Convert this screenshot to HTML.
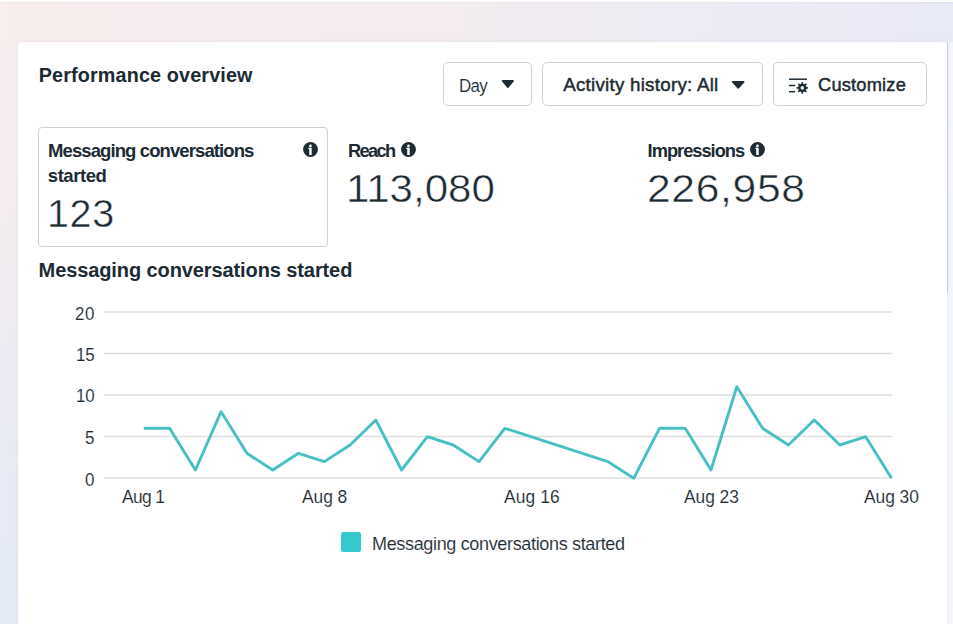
<!DOCTYPE html>
<html><head><meta charset="utf-8">
<style>
html,body{margin:0;padding:0;width:953px;height:624px;overflow:hidden;}
body{position:relative;font-family:"Liberation Sans",sans-serif;color:#1c2b33;
background:linear-gradient(to bottom,#f7eeef 0px,#f5edef 200px,#ebebf4 400px,#e3ebf6 624px);}
#bgtop{position:absolute;left:0;top:0;width:953px;height:42px;
background:linear-gradient(to right,#f8eeee 0%,#f4ecf0 45%,#edecf5 75%,#e9eaf7 100%);}
#toprow{position:absolute;left:0;top:0;width:953px;height:2px;background:#fdfdfd;}
#toprow2{position:absolute;left:0;top:2px;width:953px;height:1px;background:rgba(0,0,0,0.03);}
#rstrip{position:absolute;left:947px;top:42px;width:6px;height:582px;background:linear-gradient(to bottom,#f3f4fc,#f5f7fd);}
#card{position:absolute;left:18px;top:42px;width:929px;height:600px;background:#fff;border-radius:3px;box-shadow:0 0 2px rgba(0,0,0,0.05),0 0 10px rgba(0,0,0,0.03);}
#sb{position:absolute;left:947px;top:42px;width:1px;height:251px;background:#c9ccd4;}
.t{position:absolute;white-space:nowrap;line-height:normal;}
#n1,#n2,#n3{-webkit-text-stroke:0.5px #fff;}
#leg,#x1,#x8,#x16,#x23,#x30,#y20,#y15,#y10,#y5,#y0,#bday{-webkit-text-stroke:0.12px #fff;}
.btn{position:absolute;top:62px;height:44px;box-sizing:border-box;border:1px solid #cdd0d5;border-radius:5px;background:#fff;}



</style></head><body>
<div id="bgtop"></div>
<div id="toprow"></div>
<div id="toprow2"></div>
<div id="rstrip"></div>
<div id="card"></div>
<div id="sb"></div>
<div class="btn" style="left:443px;width:89px;"></div>
<div class="btn" style="left:542px;width:221px;"></div>
<div class="btn" style="left:773px;width:154px;"></div>
<svg style="position:absolute;left:0;top:0;" width="953" height="624">
<path d="M502.8 80.9 L512.9 80.9 L507.85 86.9 Z" fill="#1c2b33" stroke="#1c2b33" stroke-width="2" stroke-linejoin="round"/>
<path d="M732.9 81.9 L743.5 81.9 L738.2 87.7 Z" fill="#1c2b33" stroke="#1c2b33" stroke-width="2" stroke-linejoin="round"/>
<g stroke="#1c2b33" stroke-width="1.5">
<line x1="789" y1="79.2" x2="807" y2="79.2"/>
<line x1="789" y1="85.5" x2="795.2" y2="85.5"/>
<line x1="789" y1="91.7" x2="795.2" y2="91.7"/>
</g>
<g transform="translate(802.3 87.9)" fill="#1c2b33">
<circle r="4.1"/>
<rect x="-0.8" y="-5.8" width="1.6" height="11.6"/>
<rect x="-0.8" y="-5.8" width="1.6" height="11.6" transform="rotate(45)"/>
<rect x="-0.8" y="-5.8" width="1.6" height="11.6" transform="rotate(90)"/>
<rect x="-0.8" y="-5.8" width="1.6" height="11.6" transform="rotate(135)"/>
<circle r="1.8" fill="#e4ecf0"/>
</g>
<g stroke="#dedede" stroke-width="1.5"><line x1="104" y1="312.0" x2="892" y2="312.0"/><line x1="104" y1="353.5" x2="892" y2="353.5"/><line x1="104" y1="395.0" x2="892" y2="395.0"/><line x1="104" y1="436.5" x2="892" y2="436.5"/><line x1="104" y1="478.0" x2="892" y2="478.0"/></g>
<polyline fill="none" stroke="#47bfc3" stroke-width="2.9" stroke-linejoin="round" points="143.8,428.3 169.6,428.3 195.4,470.0 221.1,411.7 246.9,453.3 272.7,470.0 298.5,453.3 324.3,461.6 350.1,445.0 375.8,420.0 401.6,470.0 427.4,436.7 453.2,445.0 479.0,461.6 504.8,428.3 607.9,461.6 633.7,478.3 659.5,428.3 685.2,428.3 711.0,470.0 736.8,386.7 762.6,428.3 788.4,445.0 814.2,420.0 839.9,445.0 865.7,436.7 891.5,478.3"/>
</svg>
<div style="position:absolute;left:38px;top:127px;width:290px;height:120px;box-sizing:border-box;border:1px solid #cdd0d5;border-radius:4px;"></div>
<svg style="position:absolute;left:303px;top:142px;" width="15" height="15" viewBox="0 0 15 15"><circle cx="7.5" cy="7.5" r="7.4" fill="#1c2b33"/><circle cx="7.45" cy="3.9" r="1.3" fill="#fff"/><path d="M5.3 5.8 H8.7 V12.9 H6.2 V7.0 H5.3 Z" fill="#fff"/></svg>
<svg style="position:absolute;left:401px;top:142px;" width="15" height="15" viewBox="0 0 15 15"><circle cx="7.5" cy="7.5" r="7.4" fill="#1c2b33"/><circle cx="7.45" cy="3.9" r="1.3" fill="#fff"/><path d="M5.3 5.8 H8.7 V12.9 H6.2 V7.0 H5.3 Z" fill="#fff"/></svg>
<svg style="position:absolute;left:750px;top:142px;" width="15" height="15" viewBox="0 0 15 15"><circle cx="7.5" cy="7.5" r="7.4" fill="#1c2b33"/><circle cx="7.45" cy="3.9" r="1.3" fill="#fff"/><path d="M5.3 5.8 H8.7 V12.9 H6.2 V7.0 H5.3 Z" fill="#fff"/></svg>
<div style="position:absolute;left:341px;top:532px;width:20px;height:20px;border-radius:2.5px;background:#35c8cc;"></div>
<div class="t" id="t1" style="left:38.8px;top:63.8px;font-size:19.75px;font-weight:bold;letter-spacing:0.15px;">Performance overview</div>
<div class="t" id="t2" style="left:38.6px;top:258.8px;font-size:20.0px;font-weight:bold;letter-spacing:-0.1px;">Messaging conversations started</div>
<div class="t" id="m1a" style="left:48.0px;top:140.3px;font-size:18.5px;font-weight:bold;letter-spacing:-0.9px;">Messaging conversations</div>
<div class="t" id="m1b" style="left:47.8px;top:165.2px;font-size:18.5px;font-weight:bold;letter-spacing:-0.45px;">started</div>
<div class="t" id="m2" style="left:348.0px;top:140.3px;font-size:18.25px;font-weight:bold;letter-spacing:-1.65px;">Reach</div>
<div class="t" id="m3" style="left:647.6px;top:140.3px;font-size:18.25px;font-weight:bold;letter-spacing:-1.0px;">Impressions</div>
<div class="t" id="n1" style="left:46.9px;top:191.2px;font-size:39.5px;letter-spacing:0.65px;">123</div>
<div class="t" id="n2" style="left:346.4px;top:166.5px;font-size:39.0px;letter-spacing:-0.05px;transform-origin:0 0;transform:scaleX(1.08);">113,080</div>
<div class="t" id="n3" style="left:647.4px;top:166.6px;font-size:38.75px;letter-spacing:0.6px;transform-origin:0 0;transform:scaleX(1.1);">226,958</div>
<div class="t" id="bday" style="left:458.7px;top:74.7px;font-size:18.75px;letter-spacing:-0.7px;transform-origin:0 0;transform:scaleX(0.9);">Day</div>
<div class="t" id="bact" style="left:563.2px;top:73.6px;font-size:18.75px;-webkit-text-stroke:0.45px #1c2b33;letter-spacing:0.25px;">Activity history: All</div>
<div class="t" id="bcus" style="left:818.0px;top:74.2px;font-size:18.25px;-webkit-text-stroke:0.45px #1c2b33;letter-spacing:0.2px;">Customize</div>
<div class="t" id="leg" style="left:371.5px;top:532.9px;font-size:18.75px;letter-spacing:-0.35px;transform-origin:0 0;transform:scaleX(0.96);">Messaging conversations started</div>
<div class="t" id="x1" style="left:122.0px;top:486.1px;font-size:18.5px;letter-spacing:-0.65px;transform-origin:0 0;transform:scaleX(0.94);">Aug 1</div>
<div class="t" id="x8" style="left:302.0px;top:486.1px;font-size:18.5px;letter-spacing:-0.05px;transform-origin:0 0;transform:scaleX(0.94);">Aug 8</div>
<div class="t" id="x16" style="left:503.7px;top:486.1px;font-size:18.5px;letter-spacing:0.1px;transform-origin:0 0;transform:scaleX(0.94);">Aug 16</div>
<div class="t" id="x23" style="left:683.9px;top:486.1px;font-size:18.5px;letter-spacing:-0.05px;transform-origin:0 0;transform:scaleX(0.94);">Aug 23</div>
<div class="t" id="x30" style="left:864.1px;top:486.1px;font-size:18.5px;letter-spacing:-0.05px;transform-origin:0 0;transform:scaleX(0.94);">Aug 30</div>
<div class="t" id="y20" style="left:75.3px;top:303.5px;font-size:18.0px;letter-spacing:0.75px;transform-origin:0 0;transform:scaleX(0.94);">20</div>
<div class="t" id="y15" style="left:76.0px;top:344.9px;font-size:18.0px;letter-spacing:-0.3px;transform-origin:0 0;transform:scaleX(0.94);">15</div>
<div class="t" id="y10" style="left:76.0px;top:386.4px;font-size:18.0px;letter-spacing:-0.2px;transform-origin:0 0;transform:scaleX(0.94);">10</div>
<div class="t" id="y5" style="left:85.0px;top:427.7px;font-size:18.0px;transform-origin:0 0;transform:scaleX(0.94);">5</div>
<div class="t" id="y0" style="left:84.6px;top:469.7px;font-size:18.0px;transform-origin:0 0;transform:scaleX(0.94);">0</div>
</body></html>
